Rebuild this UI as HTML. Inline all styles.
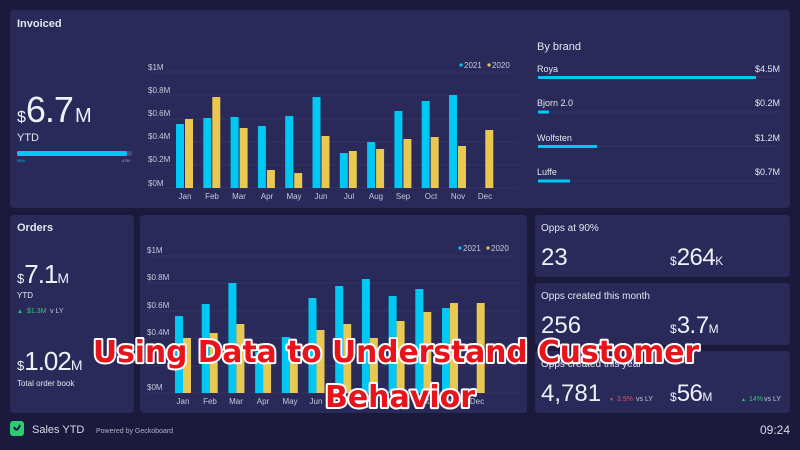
<!DOCTYPE html>
<html><head><meta charset="utf-8"><style>
html,body{margin:0;padding:0;background:#1b1a3d;}
svg{display:block;font-family:"Liberation Sans",sans-serif;}
</style></head><body>
<svg width="800" height="450" viewBox="0 0 800 450" xmlns="http://www.w3.org/2000/svg">
<rect width="800" height="450" fill="#1b1a3d"/>
<rect x="10" y="10" width="780" height="198" rx="4" fill="#29295a"/>
<rect x="10" y="215" width="124" height="198" rx="4" fill="#29295a"/>
<rect x="140" y="215" width="387" height="198" rx="4" fill="#29295a"/>
<rect x="535" y="215" width="255" height="62" rx="4" fill="#29295a"/>
<rect x="535" y="283" width="255" height="62" rx="4" fill="#29295a"/>
<rect x="535" y="351" width="255" height="62" rx="4" fill="#29295a"/>

<text x="17" y="27" fill="#e6e6f0" font-size="11" font-weight="bold">Invoiced</text>
<text x="17" y="122" fill="#f0f0f8"><tspan font-size="16">$</tspan><tspan font-size="36" letter-spacing="-1">6.7</tspan><tspan font-size="20" dx="2">M</tspan></text>
<text x="17" y="141" fill="#e6e6f0" font-size="11">YTD</text>
<rect x="17" y="151" width="115" height="5" rx="2" fill="#4a4a72"/>
<rect x="17" y="151" width="110" height="5" rx="2" fill="#00c8f5"/>
<text x="17" y="162" fill="#00c8f5" font-size="4">95%</text>
<text x="122" y="162" fill="#b0b0c8" font-size="4">47M</text>

<g font-size="8" fill="#c8c8dc">
<text x="148" y="70">$1M</text><text x="148" y="93">$0.8M</text><text x="148" y="116">$0.6M</text>
<text x="148" y="139">$0.4M</text><text x="148" y="162">$0.2M</text><text x="148" y="186">$0M</text>
</g>
<g stroke="#3a3a68" stroke-width="0.7">
<line x1="148" y1="72" x2="518" y2="72"/><line x1="148" y1="95" x2="518" y2="95"/><line x1="148" y1="119" x2="518" y2="119"/>
<line x1="148" y1="142" x2="518" y2="142"/><line x1="148" y1="165" x2="518" y2="165"/><line x1="148" y1="188" x2="518" y2="188"/>
</g>
<circle cx="461" cy="65" r="1.6" fill="#00c8f5"/><text x="464" y="68" font-size="8" fill="#c8c8dc">2021</text>
<circle cx="489" cy="65" r="1.6" fill="#e8c850"/><text x="492" y="68" font-size="8" fill="#c8c8dc">2020</text>
<g fill="#00c8f5">
<rect x="176" y="124" width="8" height="64"/><rect x="203.3" y="118" width="8" height="70"/><rect x="230.6" y="117" width="8" height="71"/>
<rect x="257.9" y="126" width="8" height="62"/><rect x="285.2" y="116" width="8" height="72"/><rect x="312.5" y="97" width="8" height="91"/>
<rect x="339.8" y="153" width="8" height="35"/><rect x="367.1" y="142" width="8" height="46"/><rect x="394.4" y="111" width="8" height="77"/>
<rect x="421.7" y="101" width="8" height="87"/><rect x="449" y="95" width="8" height="93"/>
</g>
<g fill="#e8c850">
<rect x="185" y="119" width="8" height="69"/><rect x="212.3" y="97" width="8" height="91"/><rect x="239.6" y="128" width="8" height="60"/>
<rect x="266.9" y="170" width="8" height="18"/><rect x="294.2" y="173" width="8" height="15"/><rect x="321.5" y="136" width="8" height="52"/>
<rect x="348.8" y="151" width="8" height="37"/><rect x="376.1" y="149" width="8" height="39"/><rect x="403.4" y="139" width="8" height="49"/>
<rect x="430.7" y="137" width="8" height="51"/><rect x="458" y="146" width="8" height="42"/><rect x="485.3" y="130" width="8" height="58"/>
</g>
<g font-size="8" fill="#c8c8dc" text-anchor="middle">
<text x="185" y="199">Jan</text><text x="212" y="199">Feb</text><text x="239" y="199">Mar</text><text x="267" y="199">Apr</text>
<text x="294" y="199">May</text><text x="321" y="199">Jun</text><text x="349" y="199">Jul</text><text x="376" y="199">Aug</text>
<text x="403" y="199">Sep</text><text x="431" y="199">Oct</text><text x="458" y="199">Nov</text><text x="485" y="199">Dec</text>
</g>

<text x="537" y="50" fill="#e6e6f0" font-size="11">By brand</text>
<g font-size="9" fill="#e6e6f0">
<text x="537" y="72">Roya</text><text x="780" y="72" text-anchor="end">$4.5M</text>
<text x="537" y="106">Bjorn 2.0</text><text x="780" y="106" text-anchor="end">$0.2M</text>
<text x="537" y="141">Wolfsten</text><text x="780" y="141" text-anchor="end">$1.2M</text>
<text x="537" y="175">Luffe</text><text x="780" y="175" text-anchor="end">$0.7M</text>
</g>
<g stroke="#3a3a68" stroke-width="0.7">
<line x1="538" y1="77" x2="780" y2="77"/><line x1="538" y1="112" x2="780" y2="112"/><line x1="538" y1="146" x2="780" y2="146"/><line x1="538" y1="181" x2="780" y2="181"/>
</g>
<g fill="#00c8f5">
<rect x="538" y="76" width="218" height="3"/><rect x="538" y="110.5" width="11" height="3"/><rect x="538" y="145" width="59" height="3"/><rect x="538" y="179.5" width="32" height="3"/>
</g>

<text x="17" y="231" fill="#e6e6f0" font-size="11" font-weight="bold">Orders</text>
<text x="17" y="283" fill="#f0f0f8"><tspan font-size="13">$</tspan><tspan font-size="26" letter-spacing="-1">7.1</tspan><tspan font-size="14">M</tspan></text>
<text x="17" y="298" fill="#e6e6f0" font-size="8">YTD</text>
<text x="17" y="313" fill="#2ecc71" font-size="6">▲</text>
<text x="27" y="313" fill="#2ecc71" font-size="7">$1.3M</text>
<text x="50" y="313" fill="#c8c8dc" font-size="7">v LY</text>
<text x="17" y="370" fill="#f0f0f8"><tspan font-size="13">$</tspan><tspan font-size="26" letter-spacing="-1">1.02</tspan><tspan font-size="14">M</tspan></text>
<text x="17" y="386" fill="#e6e6f0" font-size="8">Total order book</text>

<g font-size="8" fill="#c8c8dc">
<text x="147" y="253">$1M</text><text x="147" y="280">$0.8M</text><text x="147" y="308">$0.6M</text>
<text x="147" y="335">$0.4M</text><text x="147" y="390">$0M</text>
</g>
<g stroke="#3a3a68" stroke-width="0.7">
<line x1="147" y1="256" x2="518" y2="256"/><line x1="147" y1="283" x2="518" y2="283"/><line x1="147" y1="311" x2="518" y2="311"/>
<line x1="147" y1="338" x2="518" y2="338"/><line x1="147" y1="366" x2="518" y2="366"/><line x1="147" y1="393" x2="518" y2="393"/>
</g>
<circle cx="460" cy="248" r="1.6" fill="#00c8f5"/><text x="463" y="251" font-size="8" fill="#c8c8dc">2021</text>
<circle cx="488" cy="248" r="1.6" fill="#e8c850"/><text x="491" y="251" font-size="8" fill="#c8c8dc">2020</text>
<g fill="#00c8f5">
<rect x="175" y="316" width="8" height="77"/><rect x="201.7" y="304" width="8" height="89"/><rect x="228.4" y="283" width="8" height="110"/>
<rect x="255.1" y="352" width="8" height="41"/><rect x="281.8" y="337" width="8" height="56"/><rect x="308.5" y="298" width="8" height="95"/>
<rect x="335.2" y="286" width="8" height="107"/><rect x="361.9" y="279" width="8" height="114"/><rect x="388.6" y="296" width="8" height="97"/>
<rect x="415.3" y="289" width="8" height="104"/><rect x="442" y="308" width="8" height="85"/>
</g>
<g fill="#e8c850">
<rect x="183" y="338" width="8" height="55"/><rect x="209.7" y="333" width="8" height="60"/><rect x="236.4" y="324" width="8" height="69"/>
<rect x="263.1" y="345" width="8" height="48"/><rect x="289.8" y="352" width="8" height="41"/><rect x="316.5" y="330" width="8" height="63"/>
<rect x="343.2" y="324" width="8" height="69"/><rect x="369.9" y="338" width="8" height="55"/><rect x="396.6" y="321" width="8" height="72"/>
<rect x="423.3" y="312" width="8" height="81"/><rect x="450" y="303" width="8" height="90"/><rect x="476.7" y="303" width="8" height="90"/>
</g>
<g font-size="8" fill="#c8c8dc" text-anchor="middle">
<text x="183" y="404">Jan</text><text x="210" y="404">Feb</text><text x="236" y="404">Mar</text><text x="263" y="404">Apr</text>
<text x="290" y="404">May</text><text x="316" y="404">Jun</text><text x="343" y="404">Jul</text><text x="370" y="404">Aug</text>
<text x="397" y="404">Sep</text><text x="423" y="404">Oct</text><text x="450" y="404">Nov</text><text x="477" y="404">Dec</text>
</g>

<g fill="#e6e6f0" font-size="10">
<text x="541" y="231">Opps at 90%</text>
<text x="541" y="299">Opps created this month</text>
<text x="541" y="367">Opps created this year</text>
</g>
<g fill="#f0f0f8">
<text x="541" y="265" font-size="24">23</text>
<text x="670" y="265"><tspan font-size="12">$</tspan><tspan font-size="24" letter-spacing="-0.5">264</tspan><tspan font-size="12">K</tspan></text>
<text x="541" y="333" font-size="24">256</text>
<text x="670" y="333"><tspan font-size="12">$</tspan><tspan font-size="24" letter-spacing="-0.5">3.7</tspan><tspan font-size="12">M</tspan></text>
<text x="541" y="401" font-size="24">4,781</text>
<text x="670" y="401"><tspan font-size="12">$</tspan><tspan font-size="24" letter-spacing="-0.5">56</tspan><tspan font-size="12">M</tspan></text>
</g>
<text x="609" y="401" font-size="5" fill="#e05060">▼</text><text x="617" y="401" font-size="7" fill="#e05060">3.9%</text><text x="636" y="401" font-size="7" fill="#c8c8dc">vs LY</text>
<text x="741" y="401" font-size="5" fill="#2ecc71">▲</text><text x="749" y="401" font-size="7" fill="#2ecc71">14%</text><text x="764" y="401" font-size="7" fill="#c8c8dc">vs LY</text>

<rect x="10" y="421" width="14" height="15" rx="3" fill="#2ecc71"/>
<path d="M14 427 q3 6 6 -2" stroke="#1b1a3d" stroke-width="2" fill="none"/>
<text x="32" y="433" font-size="11" fill="#d8d8e8">Sales YTD</text>
<text x="96" y="433" font-size="7" fill="#b0b0c8">Powered by Geckoboard</text>
<text x="790" y="434" font-size="12" fill="#d8d8e8" text-anchor="end">09:24</text>

<g font-size="30" font-weight="bold" text-anchor="middle" font-family="'DejaVu Sans','Liberation Sans',sans-serif">
<text x="396" y="362" textLength="606" lengthAdjust="spacingAndGlyphs" fill="#e8141c" stroke="#ffffff" stroke-width="4" paint-order="stroke" stroke-linejoin="round">Using Data to Understand Customer</text>
<text x="400" y="407" fill="#e8141c" stroke="#ffffff" stroke-width="4" paint-order="stroke" stroke-linejoin="round">Behavior</text>
</g>
</svg>
</body></html>
